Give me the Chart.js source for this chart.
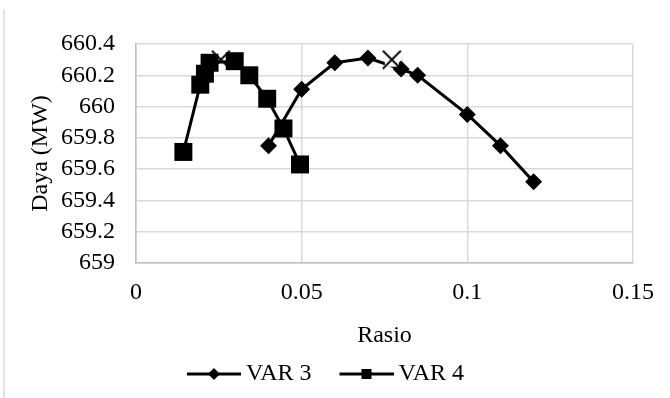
<!DOCTYPE html>
<html>
<head>
<meta charset="utf-8">
<script src="https://cdn.jsdelivr.net/npm/chart.js@4.4.0/dist/chart.umd.min.js"></script>
<style>
  html, body { margin: 0; padding: 0; background: #fff; }
</style>
</head>
<body>
<canvas id="myChart" width="670" height="398"></canvas>
<script>
'use strict';

// data
var var3X = [0.040, 0.050, 0.060, 0.070, 0.080, 0.085, 0.100, 0.110, 0.120];
var var3Y = [659.75, 660.11, 660.28, 660.31, 660.24, 660.20, 659.95, 659.75, 659.52];
var var4X = [0.0143, 0.0194, 0.0208, 0.0222, 0.0298, 0.0342, 0.0396, 0.0445, 0.0495];
var var4Y = [659.71, 660.14, 660.21, 660.28, 660.29, 660.20, 660.05, 659.86, 659.63];
var optX = [0.0256, 0.0772];
var optY = [660.30, 660.30];
var xTicks = [0, 0.05, 0.1, 0.15];
var yTicks = [659, 659.2, 659.4, 659.6, 659.8, 660, 660.2, 660.4];

function toPoints(xs, ys) {
  return xs.map(function (x, i) { return { x: x, y: ys[i] }; });
}

// X marker with a white patch behind it
function crossImg() {
  var c = document.createElement('canvas');
  c.width = 20; c.height = 20;
  var g = c.getContext('2d');
  g.fillStyle = '#fff';
  g.fillRect(3, 3, 14, 14);
  g.strokeStyle = '#000';
  g.lineWidth = 1.8;
  g.beginPath();
  g.moveTo(1, 1); g.lineTo(19, 19);
  g.moveTo(19, 1); g.lineTo(1, 19);
  g.stroke();
  return c;
}

// legend sample: line with marker in the middle (left part left empty as spacing)
function legendImg(shape) {
  var m = 25, len = 54;
  var c = document.createElement('canvas');
  c.width = m + len; c.height = 16;
  var g = c.getContext('2d');
  var mid = m + len / 2;
  g.strokeStyle = '#000';
  g.lineWidth = 3;
  g.beginPath();
  g.moveTo(m, 8); g.lineTo(m + len, 8);
  g.stroke();
  g.fillStyle = '#000';
  if (shape === 'diamond') {
    g.beginPath();
    g.moveTo(mid, 2); g.lineTo(mid + 6, 8); g.lineTo(mid, 14); g.lineTo(mid - 6, 8);
    g.closePath();
    g.fill();
  } else {
    g.fillRect(mid - 5, 3, 10, 10);
  }
  return c;
}

var frameLine = {
  id: 'frameLine',
  beforeDraw: function (chart) {
    var c = chart.ctx;
    c.save();
    c.strokeStyle = '#d9d9d9';
    c.lineWidth = 1.5;
    c.beginPath();
    c.moveTo(4, 9);
    c.lineTo(4, 398);
    c.stroke();
    c.restore();
  }
};

Chart.defaults.font.family = '"Liberation Serif", "Times New Roman", serif';
Chart.defaults.color = '#000';

var legend3 = legendImg('diamond');
var legend4 = legendImg('square');

var ctx = document.getElementById('myChart').getContext('2d');

var chart = new Chart(ctx, {
  type: 'scatter',
  data: {
    datasets: [{
      label: 'VAR 3',
      data: toPoints(var3X, var3Y),
      showLine: true,
      borderColor: '#000',
      backgroundColor: '#000',
      borderWidth: 3,
      pointStyle: 'rectRot',
      pointRadius: 8.5,
      pointBorderWidth: 0,
      order: 3
    },
    {
      label: 'opt',
      data: toPoints(optX, optY),
      showLine: false,
      pointStyle: crossImg(),
      pointRadius: 9,
      order: 2
    },
    {
      label: 'VAR 4',
      data: toPoints(var4X, var4Y),
      showLine: true,
      borderColor: '#000',
      backgroundColor: '#000',
      borderWidth: 3,
      pointStyle: 'rect',
      pointRadius: 12.7,
      pointBorderWidth: 0,
      order: 1
    }]
  },
  options: {
    responsive: false,
    animation: false,
    layout: { padding: { left: 0, right: 37, top: 44, bottom: 2 } },
    plugins: {
      tooltip: { enabled: false },
      legend: {
        position: 'bottom',
        labels: {
          usePointStyle: true,
          pointStyleWidth: 65,
          padding: 10,
          font: { size: 24 },
          generateLabels: function () {
            return [
              { text: 'VAR 3', pointStyle: legend3, fillStyle: '#000', strokeStyle: '#000', lineWidth: 0, hidden: false, datasetIndex: 0, fontColor: '#000' },
              { text: 'VAR 4', pointStyle: legend4, fillStyle: '#000', strokeStyle: '#000', lineWidth: 0, hidden: false, datasetIndex: 2, fontColor: '#000' }
            ];
          }
        }
      }
    },
    scales: {
      x: {
        type: 'linear',
        min: 0,
        max: 0.15,
        afterBuildTicks: function (scale) {
          scale.ticks = xTicks.map(function (v) { return { value: v }; });
        },
        afterFit: function (scale) { scale.height = 89; },
        grid: { color: '#d9d9d9', lineWidth: 1.5, drawTicks: false },
        border: { color: '#bfbfbf', width: 1.5 },
        ticks: {
          autoSkip: false,
          maxRotation: 0,
          padding: 15,
          font: { size: 24 },
          callback: function (v) { return String(v); }
        },
        title: {
          display: true,
          text: 'Rasio',
          font: { size: 24 },
          padding: { top: 0, bottom: 2 }
        }
      },
      y: {
        type: 'linear',
        min: 659,
        max: 660.4,
        afterBuildTicks: function (scale) {
          scale.ticks = yTicks.map(function (v) { return { value: v }; });
        },
        afterFit: function (scale) { scale.width = 136; },
        grid: { color: '#d9d9d9', lineWidth: 1.5, drawTicks: false },
        border: { color: '#bfbfbf', width: 1.5 },
        ticks: {
          autoSkip: false,
          padding: 21,
          font: { size: 24 },
          callback: function (v) { return String(v); }
        },
        title: {
          display: true,
          text: 'Daya (MW)',
          font: { size: 24 },
          padding: { top: 26, bottom: 0 }
        }
      }
    }
  },
  plugins: [frameLine]
});
</script>
</body>
</html>
